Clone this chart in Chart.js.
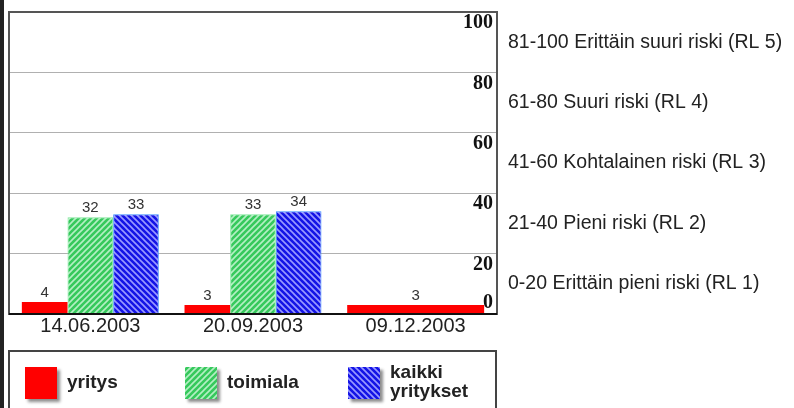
<!DOCTYPE html>
<html>
<head>
<meta charset="utf-8">
<script src="https://cdn.jsdelivr.net/npm/chart.js@4"></script>
<style>
  html, body { margin: 0; padding: 0; background: #fff; }
  #wrap { position: relative; width: 794px; height: 408px; }
  #edge { position: absolute; left: 0; top: 0; width: 4px; height: 408px; background: #222; }
</style>
</head>
<body>
<div id="wrap">
  <canvas id="riskChart"></canvas>
  <div id="edge"></div>
</div>
<script>
// data
const dates = ['14.06.2003', '20.09.2003', '09.12.2003'];
const seriesNames = ['yritys', 'toimiala', 'kaikki\nyritykset'];
const yritysValues = [4, 3, 3];
const toimialaValues = [32, 33, null];
const kaikkiValues = [33, 34, null];
const yTicks = [0, 20, 40, 60, 80, 100];
const riskLabels = [
  '81-100 Erittäin suuri riski (RL 5)',
  '61-80 Suuri riski (RL 4)',
  '41-60 Kohtalainen riski (RL 3)',
  '21-40 Pieni riski (RL 2)',
  '0-20 Erittäin pieni riski (RL 1)',
];
const riskBandMids = [90, 70, 50, 30, 10];

const SANS = 'Arial, "Liberation Sans", sans-serif';
const SERIF = '"Times New Roman", "Liberation Serif", serif';

// hatch fill like the old screenshot
function hatch(base, stripe, forward) {
  const c = document.createElement('canvas');
  c.width = 6;
  c.height = 6;
  const g = c.getContext('2d');
  g.fillStyle = base;
  g.fillRect(0, 0, 6, 6);
  g.strokeStyle = stripe;
  g.lineWidth = 1.6;
  g.beginPath();
  if (forward) {
    g.moveTo(-1, 7); g.lineTo(7, -1);
    g.moveTo(-4, 4); g.lineTo(4, -4);
    g.moveTo(2, 10); g.lineTo(10, 2);
  } else {
    g.moveTo(-1, -1); g.lineTo(7, 7);
    g.moveTo(-4, 2); g.lineTo(4, 10);
    g.moveTo(2, -4); g.lineTo(10, 4);
  }
  g.stroke();
  return g.createPattern(c, 'repeat');
}

const redFill = '#ff0000';
const greenFill = hatch('#36c95c', '#b4efc4', true);
const blueFill = hatch('#1414e6', '#9a9aff', false);

const valueLabels = {
  id: 'valueLabels',
  afterDatasetsDraw(chart) {
    const ctx = chart.ctx;
    ctx.save();
    ctx.font = '15px ' + SANS;
    ctx.fillStyle = '#333';
    ctx.textAlign = 'center';
    ctx.textBaseline = 'bottom';
    chart.data.datasets.forEach((ds, i) => {
      chart.getDatasetMeta(i).data.forEach((bar, j) => {
        if (ds.data[j] == null) return;
        ctx.fillText(String(ds.data[j]), bar.x, bar.y - 2);
      });
    });
    ctx.restore();
  },
};

const frameAndText = {
  id: 'frameAndText',
  afterDraw(chart) {
    const ctx = chart.ctx;
    const a = chart.chartArea;
    const y = chart.scales.y;
    ctx.save();

    // plot frame
    ctx.strokeStyle = '#555';
    ctx.lineWidth = 2;
    ctx.strokeRect(a.left, a.top, a.right - a.left, a.bottom - a.top);
    ctx.strokeStyle = '#111';
    ctx.beginPath();
    ctx.moveTo(a.left, a.bottom);
    ctx.lineTo(a.right, a.bottom);
    ctx.stroke();

    // y tick labels inside the frame, below their line
    ctx.font = 'bold 20px ' + SERIF;
    ctx.fillStyle = '#111';
    ctx.textAlign = 'right';
    ctx.textBaseline = 'middle';
    yTicks.forEach((v) => {
      const py = y.getPixelForValue(v) + (v === 0 ? -11 : 11);
      ctx.fillText(String(v), a.right - 4, py);
    });

    // risk level texts beside the bands
    ctx.font = '19.5px ' + SANS;
    ctx.fillStyle = '#222';
    ctx.textAlign = 'left';
    riskLabels.forEach((t, i) => {
      ctx.fillText(t, a.right + 11, y.getPixelForValue(riskBandMids[i]));
    });

    // legend box
    ctx.strokeStyle = '#444';
    ctx.lineWidth = 2;
    ctx.strokeRect(a.left, 351, a.right - 1 - a.left, 70);
    const swatchX = [25, 185, 348];
    const fills = [redFill, greenFill, blueFill];
    ctx.font = 'bold 19px ' + SANS;
    seriesNames.forEach((name, i) => {
      ctx.save();
      ctx.shadowColor = 'rgba(0,0,0,0.45)';
      ctx.shadowBlur = 3;
      ctx.shadowOffsetX = 3;
      ctx.shadowOffsetY = 3;
      ctx.fillStyle = fills[i];
      ctx.fillRect(swatchX[i], 367, 32, 32);
      ctx.restore();
      ctx.fillStyle = '#222';
      const lines = name.split('\n');
      const tx = swatchX[i] + 42;
      if (lines.length === 1) {
        ctx.fillText(lines[0], tx, 383);
      } else {
        ctx.fillText(lines[0], tx, 373);
        ctx.fillText(lines[1], tx, 392);
      }
    });
    ctx.restore();
  },
};

new Chart(document.getElementById('riskChart'), {
  type: 'bar',
  data: {
    labels: dates,
    datasets: [
      { label: seriesNames[0], data: yritysValues, backgroundColor: redFill, borderWidth: 0 },
      { label: seriesNames[1], data: toimialaValues, backgroundColor: greenFill, borderColor: '#7ee89a', borderWidth: 1 },
      { label: seriesNames[2], data: kaikkiValues, backgroundColor: blueFill, borderColor: '#3a8cff', borderWidth: 1 },
    ],
  },
  options: {
    responsive: true,
    maintainAspectRatio: false,
    animation: false,
    skipNull: true,
    categoryPercentage: 0.842,
    barPercentage: 1,
    layout: { padding: { left: 9, top: 12, right: 297, bottom: 0 } },
    plugins: {
      legend: { display: false },
      tooltip: { enabled: false },
    },
    scales: {
      x: {
        grid: { display: false, drawTicks: false },
        border: { display: false },
        ticks: { color: '#222', font: { family: SANS, size: 20 }, padding: 0 },
        afterFit: (s) => { s.height = 94; },
      },
      y: {
        position: 'right',
        min: 0,
        max: 100,
        ticks: { stepSize: 20, display: false },
        grid: { color: '#b0b0b0', lineWidth: 1, drawTicks: false },
        border: { display: false },
        afterFit: (s) => { s.width = 0; },
      },
    },
  },
  plugins: [valueLabels, frameAndText],
});
</script>
</body>
</html>
